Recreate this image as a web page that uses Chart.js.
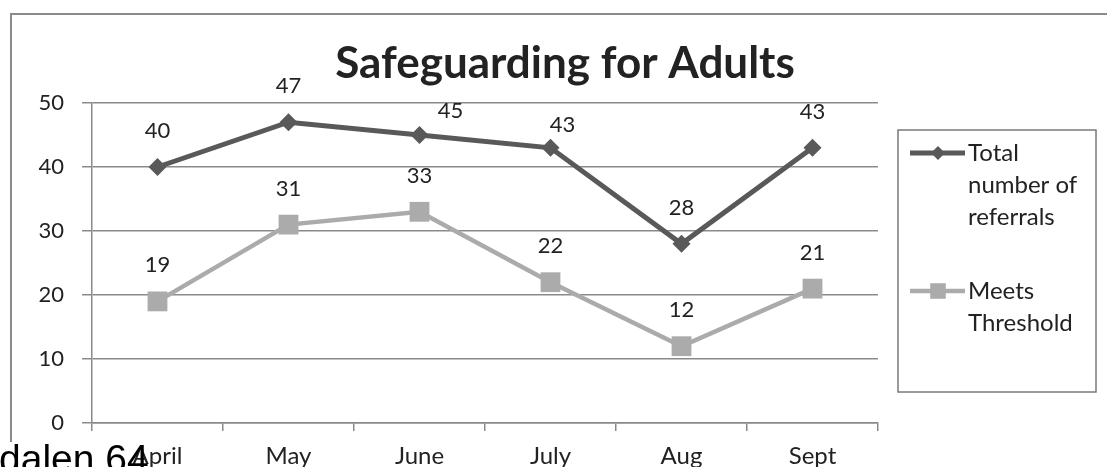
<!DOCTYPE html>
<html><head><meta charset="utf-8">
<script src="https://cdn.jsdelivr.net/npm/chart.js@4.4.0/dist/chart.umd.min.js"></script>
<style>
html,body{margin:0;padding:0;background:#fff;overflow:hidden;}
#wrap{position:relative;width:1107px;height:467px;overflow:hidden;}
canvas{display:block;}
#stray{position:absolute;left:-1px;top:439px;font-family:"Liberation Sans",Arial,sans-serif;font-size:39px;line-height:1;color:#000;white-space:nowrap;}
</style></head><body>
<div id="wrap"><canvas id="c" width="1107" height="467"></canvas><div id="stray">dalen 64</div></div>
<script>
const chartTitle = "Safeguarding for Adults";
const months = ["April","May","June","July","Aug","Sept"];
const totalReferrals = [40,47,45,43,28,43];
const meetsThreshold = [19,31,33,22,12,21];
const seriesNames = ["Total number of referrals","Meets Threshold"];
const legendLines = [["Total","number of","referrals"],["Meets","Threshold"]];
const yTicks = [0,10,20,30,40,50];

const FONT = 'Lato, "Open Sans", sans-serif';
const TXT = '#222222';
const DARK = '#595959';
const LIGHT = '#ABABAB';
const GRID = '#8a8a8a';

// label nudges (dx, dy) relative to default position above the point
const labelNudge = { '0-2': [31, 12], '0-3': [12, 13] };

const deco = {
  id: 'deco',
  beforeDraw(chart) {
    const ctx = chart.ctx; ctx.save();
    ctx.fillStyle = '#fff'; ctx.fillRect(0, 0, chart.width, chart.height);
    ctx.strokeStyle = GRID; ctx.lineWidth = 2;
    ctx.beginPath(); ctx.moveTo(11, 442); ctx.lineTo(11, 14); ctx.lineTo(1200, 14); ctx.stroke();
    ctx.restore();
  },
  afterDatasetsDraw(chart) {
    const ctx = chart.ctx; ctx.save();
    ctx.font = '22px ' + FONT; ctx.fillStyle = TXT;
    ctx.textAlign = 'center'; ctx.textBaseline = 'middle';
    chart.data.datasets.forEach((ds, di) => {
      const meta = chart.getDatasetMeta(di);
      meta.data.forEach((el, i) => {
        const n = labelNudge[di + '-' + i] || [0, 0];
        ctx.fillText(String(ds.data[i]), el.x + n[0], el.y - 36 + n[1]);
      });
    });
    ctx.restore();
  },
  afterDraw(chart) {
    const ctx = chart.ctx; ctx.save();
    // title
    ctx.font = 'bold 44px ' + FONT; ctx.fillStyle = TXT;
    ctx.textAlign = 'center'; ctx.textBaseline = 'alphabetic';
    ctx.fillText(chartTitle, 565, 78);
    // legend box
    ctx.strokeStyle = '#7a7a7a'; ctx.lineWidth = 1.5;
    ctx.strokeRect(898, 130, 198, 262);
    const rows = [153, 291];
    const mk = [{style:'rectRot', r:7}, {style:'rect', r:11}];
    chart.data.datasets.forEach((ds, di) => {
      const y = rows[di];
      ctx.strokeStyle = ds.borderColor; ctx.lineWidth = ds.borderWidth;
      ctx.beginPath(); ctx.moveTo(910, y); ctx.lineTo(965, y); ctx.stroke();
      ctx.fillStyle = ds.pointBackgroundColor; ctx.strokeStyle = ds.pointBackgroundColor;
      Chart.helpers.drawPoint(ctx, {pointStyle: mk[di].style, radius: mk[di].r, rotation: 0, borderWidth: 0}, 938, y);
      ctx.fillStyle = TXT; ctx.font = '24px ' + FONT;
      ctx.textAlign = 'left'; ctx.textBaseline = 'middle';
      legendLines[di].forEach((t, li) => ctx.fillText(t, 968, y + li * 32));
    });
    ctx.restore();
  }
};

new Chart(document.getElementById('c'), {
  type: 'line',
  data: {
    labels: months,
    datasets: [
      { label: seriesNames[0], data: totalReferrals, borderColor: DARK, borderWidth: 5,
        pointStyle: 'rectRot', pointRadius: 9, pointBackgroundColor: DARK, pointBorderColor: DARK,
        pointBorderWidth: 0, tension: 0, fill: false },
      { label: seriesNames[1], data: meetsThreshold, borderColor: LIGHT, borderWidth: 4.5,
        pointStyle: 'rect', pointRadius: 14, pointBackgroundColor: LIGHT, pointBorderColor: LIGHT,
        pointBorderWidth: 0, tension: 0, fill: false }
    ]
  },
  options: {
    responsive: false, animation: false, devicePixelRatio: 1,
    layout: { padding: { left: 0, top: 103, right: 229, bottom: 0 } },
    plugins: { legend: { display: false }, title: { display: false }, tooltip: { enabled: false } },
    scales: {
      x: {
        offset: true,
        grid: { offset: true, drawOnChartArea: false, drawTicks: true, tickLength: 8, color: GRID, lineWidth: 1.5 },
        border: { color: GRID, width: 1.5 },
        ticks: { font: { family: FONT, size: 24 }, color: TXT, padding: 11, maxRotation: 0, autoSkip: false },
        afterFit(s) { s.height = 44; }
      },
      y: {
        min: 0, max: 50,
        afterBuildTicks(s) { s.ticks = yTicks.map(v => ({ value: v })); },
        grid: { color: GRID, lineWidth: 1.5, tickLength: 10 },
        border: { color: GRID, width: 1.5 },
        ticks: { font: { family: FONT, size: 22 }, color: TXT, padding: 18 },
        afterFit(s) { s.width = 92; }
      }
    }
  },
  plugins: [deco]
});
</script>
</body></html>
